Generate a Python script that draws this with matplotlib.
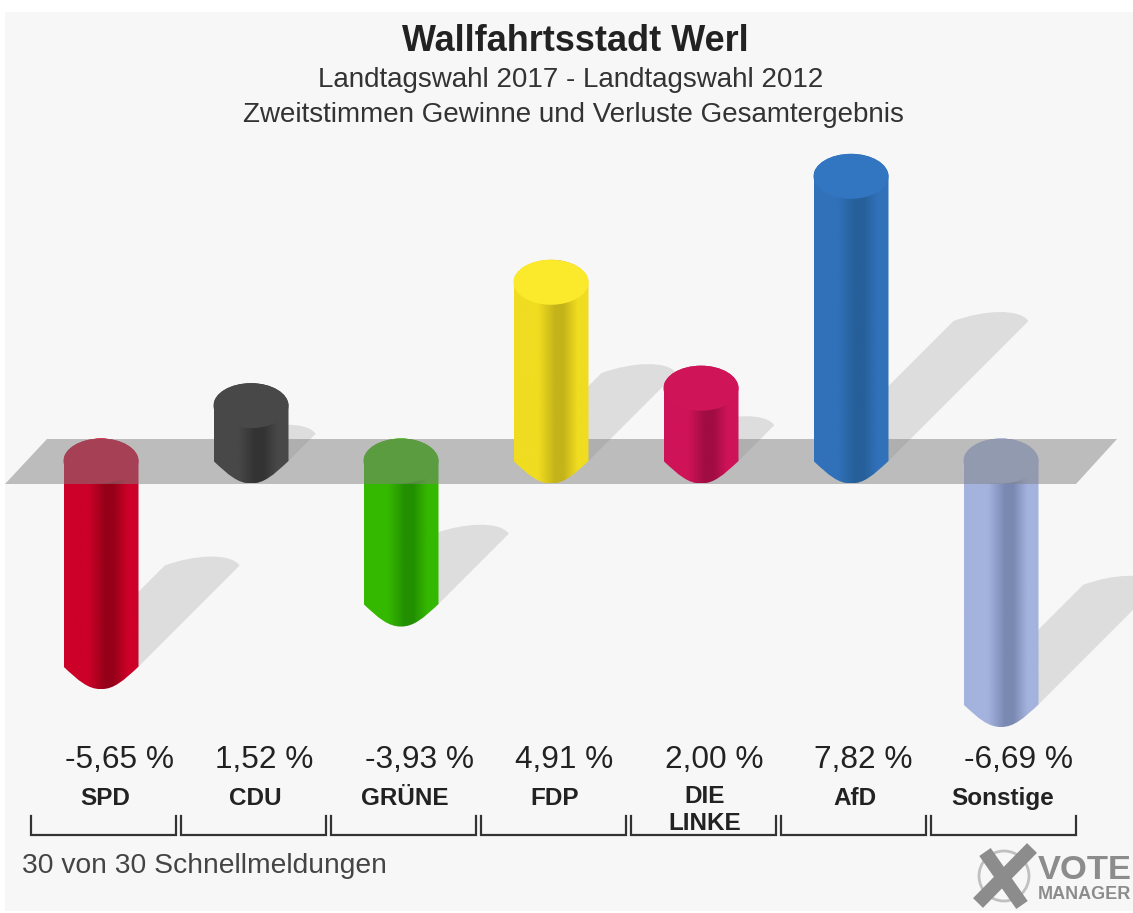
import numpy as np
import matplotlib
matplotlib.use('Agg')
import matplotlib.pyplot as plt
from matplotlib.colors import LinearSegmentedColormap
from matplotlib.patches import Circle, PathPatch, Polygon, Rectangle
from matplotlib.path import Path
from matplotlib.transforms import Affine2D

parties = ['SPD', 'CDU', 'GRÜNE', 'FDP', 'DIE\nLINKE', 'AfD', 'Sonstige']
values = [-5.65, 1.52, -3.93, 4.91, 2.00, 7.82, -6.69]
value_labels = ['-5,65 %', '1,52 %', '-3,93 %', '4,91 %', '2,00 %', '7,82 %', '-6,69 %']
side_colors = ['#cc0028', '#484848', '#35b800', '#f0dc20', '#cf1358', '#3171ba', '#a4b3de']
dark_colors = ['#950018', '#333333', '#228f00', '#c4b31a', '#a00d42', '#265f99', '#7a89b2']
top_colors = ['#cc0028', '#484848', '#35b800', '#fbe92c', '#cf1558', '#3275c0', '#a4b3de']

PLOT_FONT = ['Liberation Sans', 'DejaVu Sans']
W, H = 1133, 913
ZERO_PX, UNIT_PX, STEP_PX, FIRST_PX = 461, 36.4, 150, 101
HALF_W = 37.5 / STEP_PX
CAP_H = 22.5 / UNIT_PX
SHADOW_PX = 17.9

fig = plt.figure(figsize=(W / 100, H / 100), dpi=100, facecolor='white')
ax = fig.add_axes([0, 0, 1, 1])
ax.axis('off')
xlim = (-FIRST_PX / STEP_PX, (W - FIRST_PX) / STEP_PX)
ylim = ((ZERO_PX - H) / UNIT_PX, ZERO_PX / UNIT_PX)
# furniture is placed in image pixels, y pointing down
px = Affine2D().scale(1, -1).translate(0, H)


def shadow(i, v):
    base = min(v, 0)
    dx = SHADOW_PX * abs(v) / STEP_PX
    dy = SHADOW_PX * abs(v) / UNIT_PX
    cx, cy = i + dx, base + dy
    squash = 10 / UNIT_PX
    verts = [(i + HALF_W, base), (cx + HALF_W, cy),
             (cx + HALF_W * 0.75, cy + squash * 1.3), (cx - HALF_W * 0.2, cy + squash * 1.1), (cx - HALF_W, cy),
             (i - HALF_W, base), (i + HALF_W, base)]
    codes = [Path.MOVETO, Path.LINETO, Path.CURVE4, Path.CURVE4, Path.CURVE4, Path.LINETO, Path.CLOSEPOLY]
    ax.add_patch(PathPatch(Path(verts, codes), fc='black', ec='none', alpha=0.1, zorder=2))


def cylinder(i, v, z):
    top = max(v, 0)
    bottom = min(v, 0)
    l, r = i - HALF_W, i + HALF_W
    k = 0.5523
    verts = [(l, top), (l, bottom),
             (l + HALF_W * 0.4, bottom - CAP_H * 0.62), (i - HALF_W * 0.35, bottom - CAP_H), (i, bottom - CAP_H),
             (i + HALF_W * 0.35, bottom - CAP_H), (r - HALF_W * 0.4, bottom - CAP_H * 0.62), (r, bottom),
             (r, top),
             (r, top + CAP_H * k), (i + HALF_W * k, top + CAP_H), (i, top + CAP_H),
             (i - HALF_W * k, top + CAP_H), (l, top + CAP_H * k), (l, top),
             (l, top)]
    codes = [Path.MOVETO, Path.LINETO] + [Path.CURVE4] * 6 + [Path.LINETO] + [Path.CURVE4] * 6 + [Path.CLOSEPOLY]
    body = PathPatch(Path(verts, codes), fc='none', ec='none', transform=ax.transData)
    ax.add_patch(body)
    cmap = LinearSegmentedColormap.from_list('side', [(0, side_colors[i]), (0.32, side_colors[i]),
                                                      (0.55, dark_colors[i]), (0.66, dark_colors[i]),
                                                      (0.85, side_colors[i]), (1, side_colors[i])])
    img = ax.imshow(np.linspace(0, 1, 128).reshape(1, -1), cmap=cmap, aspect='auto', zorder=z,
                    extent=(l, r, bottom - CAP_H, top + CAP_H), interpolation='bilinear')
    img.set_clip_path(body)
    cap = [(l, top), (l, top - CAP_H * k), (i - HALF_W * k, top - CAP_H), (i, top - CAP_H),
           (i + HALF_W * k, top - CAP_H), (r, top - CAP_H * k), (r, top),
           (r, top + CAP_H * k), (i + HALF_W * k, top + CAP_H), (i, top + CAP_H),
           (i - HALF_W * k, top + CAP_H), (l, top + CAP_H * k), (l, top), (l, top)]
    cap_codes = [Path.MOVETO] + [Path.CURVE4] * 12 + [Path.CLOSEPOLY]
    ax.add_patch(PathPatch(Path(cap, cap_codes), fc=top_colors[i], ec='none', zorder=z + 0.1))


# panel behind everything
ax.add_patch(Rectangle((5, 12), W - 5, H - 14, transform=px, fc='#f7f7f7', ec='none', zorder=0))

for i, v in enumerate(values):
    if v < 0:
        shadow(i, v)
        cylinder(i, v, 3)

ax.add_patch(Polygon([(5, 484), (1076, 484), (1117, 439), (47, 439)], transform=px,
                     fc='#828282', ec='none', alpha=0.5, zorder=4))

for i, v in enumerate(values):
    if v > 0:
        shadow(i, v)
        cylinder(i, v, 5)

ax.set_xlim(xlim)
ax.set_ylim(ylim)

# titles
ax.text(575.5, 41, 'Wallfahrtsstadt Werl', transform=px, ha='center', va='center', fontsize=25.9,
        fontweight='bold', color='#222222', family=PLOT_FONT)
ax.text(571, 80, 'Landtagswahl 2017 - Landtagswahl 2012', transform=px, ha='center', va='center',
        fontsize=20, color='#333333', family=PLOT_FONT)
ax.text(573, 115, 'Zweitstimmen Gewinne und Verluste Gesamtergebnis', transform=px, ha='center',
        va='center', fontsize=20, color='#333333', family=PLOT_FONT)

# value labels, party labels and brackets
for i, (name, lab) in enumerate(zip(parties, value_labels)):
    ax.text(65 + 149.9 * i, 760, lab, transform=px, ha='left', va='center', fontsize=22.8,
            color='#222222', family=PLOT_FONT)
    ax.text(105 + 150 * i - (2 if i == 6 else 0), 810 if '\n' in name else 798, name, transform=px,
            ha='center', va='center', fontsize=17.5, fontweight='bold', color='#222222',
            family=PLOT_FONT, linespacing=1.2)
    x0 = 31 + 150 * i
    ax.plot([x0, x0, x0 + 145, x0 + 145], [816, 835, 835, 816], transform=px, color='#333333', lw=1.6,
            solid_joinstyle='miter', zorder=6)

ax.text(22, 866, '30 von 30 Schnellmeldungen', transform=px, ha='left', va='center', fontsize=20.3,
        color='#444444', family=PLOT_FONT)

# logo
ax.add_patch(Circle((1004, 876), 25, transform=px, fc='none', ec='#c0c0c0', lw=2, zorder=6))
ax.plot([985, 1022], [852, 905], transform=px, color='#8c8c8c', lw=10, solid_capstyle='butt', zorder=7)
ax.plot([1032, 978], [848, 903], transform=px, color='#8c8c8c', lw=10, solid_capstyle='butt', zorder=7)
ax.text(1038, 870, 'VOTE', transform=px, ha='left', va='center', fontsize=24.8, fontweight='bold',
        color='#8c8c8c', family=PLOT_FONT)
ax.text(1038, 894, 'MANAGER', transform=px, ha='left', va='center', fontsize=13, fontweight='bold',
        color='#8c8c8c', family=PLOT_FONT)

fig.savefig('out.png', dpi=100, facecolor='white')
